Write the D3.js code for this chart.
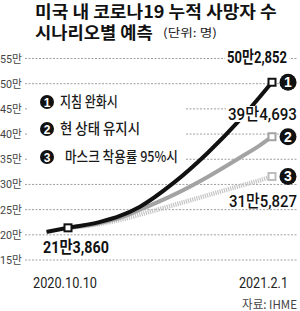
<!DOCTYPE html>
<html>
<head>
<meta charset="utf-8">
<script src="https://d3js.org/d3.v7.min.js"></script>
<style>
  body { margin: 0; background: #fff; }
  svg { display: block; }
</style>
</head>
<body>
<div id="chart"></div>
<script>
// data (단위: 만 명)
const dates = ["2020-09-28", "2020-10-10", "2020-10-28", "2020-11-08", "2020-11-19",
               "2020-12-08", "2020-12-27", "2021-01-14", "2021-01-25", "2021-02-01"];
const relaxed = [20.58, 21.386, 22.56, 23.75, 25.54, 30.3, 36.25, 42.8, 47.3, 50.2852];
const current = [null, 21.386, 22.36, 23.35, 24.94, 27.92, 31.49, 35.3, 37.7, 39.4693];
const masks   = [null, 21.386, 22.16, 22.96, 24.0, 25.9, 27.85, 29.7, 30.8, 31.5827];
const yTicks = [15, 20, 25, 30, 35, 40, 45, 50, 55];
const legendLabels = ["지침 완화시", "현 상태 유지시", "마스크 착용률 95%시"];
const endLabels = ["50만2,852", "39만4,693", "31만5,827"];
const startLabel = "21만3,860";
const xLabels = ["2020.10.10", "2021.2.1"];

const W = 300, H = 311;
const KR = "'Noto Sans CJK KR', sans-serif";
const NUM = "Roboto, 'Noto Sans CJK KR', sans-serif";
const parse = d3.timeParse("%Y-%m-%d");

const svg = d3.select("#chart").append("svg").attr("width", W).attr("height", H);

const x = d3.scaleTime()
  .domain([parse("2020-10-10"), parse("2021-02-01")])
  .range([68, 272]);
const y = d3.scaleLinear().domain([15, 55]).range([260, 58.5]);

// text squeezed horizontally to a given width (condensed look)
function txt(t, x0, y0, size, len, opts = {}) {
  const anchor = opts.anchor || "start";
  const g = svg.append("g");
  const el = g.append("text")
    .attr("font-family", opts.family || NUM).attr("font-size", size)
    .attr("font-weight", opts.weight || 400)
    .attr("fill", opts.fill || "#111")
    .attr("text-anchor", anchor)
    .text(t);
  let s = 1;
  if (len) s = len / el.node().getComputedTextLength();
  g.attr("transform", `translate(${x0},${y0}) scale(${s},1)`);
  return el;
}

// title
txt("미국 내 코로나19 누적 사망자 수", 35, 18, 16.5, 242, { family: KR, weight: 700 });
txt("시나리오별 예측", 35, 38.5, 16.5, 118, { family: KR, weight: 700 });
txt("(단위: 명)", 163, 37, 11.5, 54, { family: KR, fill: "#222" });

// grid + y labels
const grid = svg.append("g");
grid.selectAll("line").data(yTicks).join("line")
  .attr("x1", 25).attr("x2", 298)
  .attr("y1", d => y(d)).attr("y2", d => y(d))
  .attr("stroke", "#888").attr("stroke-width", 0.8).attr("stroke-dasharray", "2,1.5");
yTicks.forEach(d => txt(d + "만", 22, y(d) + 4, 11.5, 22, { anchor: "end", fill: "#444" }));

// legend box (covers grid)
svg.append("rect").attr("x", 28).attr("y", 92).attr("width", 158).attr("height", 74).attr("fill", "#fff");
const legY = [102, 129, 157];
const legX = [60, 60, 65];
const legLen = [58, 80, 113];
legendLabels.forEach((t, i) => {
  svg.append("circle").attr("cx", 47).attr("cy", legY[i]).attr("r", 7).attr("fill", "#111");
  txt(i + 1, 47, legY[i] + 4.5, 12, null, { anchor: "middle", weight: 700, fill: "#fff", family: "'Liberation Sans', sans-serif" });
  txt(t, legX[i], legY[i] + 5, 14.5, legLen[i], { family: KR, weight: 500, fill: "#1a1a1a" });
});

// lines
const line = d3.line()
  .x(d => x(parse(d[0])))
  .y(d => y(d[1]))
  .curve(d3.curveMonotoneX);
const series = [
  { vals: masks, color: "#c4c4c4", width: 4.5, dash: "1.2,1", mark: "#bdbdbd" },
  { vals: current, color: "#a3a3a3", width: 4, dash: null, mark: "#a3a3a3" },
  { vals: relaxed, color: "#111", width: 4, dash: null, mark: "#111" }
];
series.forEach(s => {
  svg.append("path")
    .datum(dates.map((d, i) => [d, s.vals[i]]).filter(d => d[1] != null))
    .attr("d", line)
    .attr("fill", "none").attr("stroke", s.color).attr("stroke-width", s.width)
    .attr("stroke-dasharray", s.dash);
});

// end markers and circled numbers
[relaxed, current, masks].forEach((vals, i) => {
  const last = vals.length - 1;
  const cx = x(parse(dates[last])), cy = y(vals[last]);
  const col = series[2 - i].mark;
  svg.append("rect").attr("x", cx - 3.5).attr("y", cy - 3.5).attr("width", 7).attr("height", 7)
    .attr("fill", "#fff").attr("stroke", col).attr("stroke-width", 2);
  svg.append("circle").attr("cx", 288).attr("cy", cy).attr("r", 8.5).attr("fill", "#111");
  txt(i + 1, 288, cy + 5, 14, null, { anchor: "middle", weight: 700, fill: "#fff", family: "'Liberation Sans', sans-serif" });
});

// start marker
svg.append("rect").attr("x", x(parse(dates[1])) - 3.5).attr("y", y(relaxed[1]) - 3.5)
  .attr("width", 7).attr("height", 7)
  .attr("fill", "#fff").attr("stroke", "#111").attr("stroke-width", 2);

// value labels with white backing
function valueLabel(t, x0, yc, len, weight) {
  svg.append("rect").attr("x", x0 - 2).attr("y", yc - 8).attr("width", len + 4).attr("height", 16).attr("fill", "#fff");
  txt(t, x0, yc + 6, 16.5, len, { weight: weight });
}
valueLabel(endLabels[0], 227, 57, 60, 700);
valueLabel(endLabels[1], 228, 114, 69, 500);
valueLabel(endLabels[2], 229, 201, 68, 500);
txt(startLabel, 43, 253, 16.5, 66, { weight: 700 });

// x labels
txt(xLabels[0], 33, 288, 15, 64, { fill: "#222" });
txt(xLabels[1], 239, 288, 15, 49, { fill: "#222" });
txt("자료: IHME", 297, 309, 12, 55, { anchor: "end", fill: "#444", family: KR });
</script>
</body>
</html>
